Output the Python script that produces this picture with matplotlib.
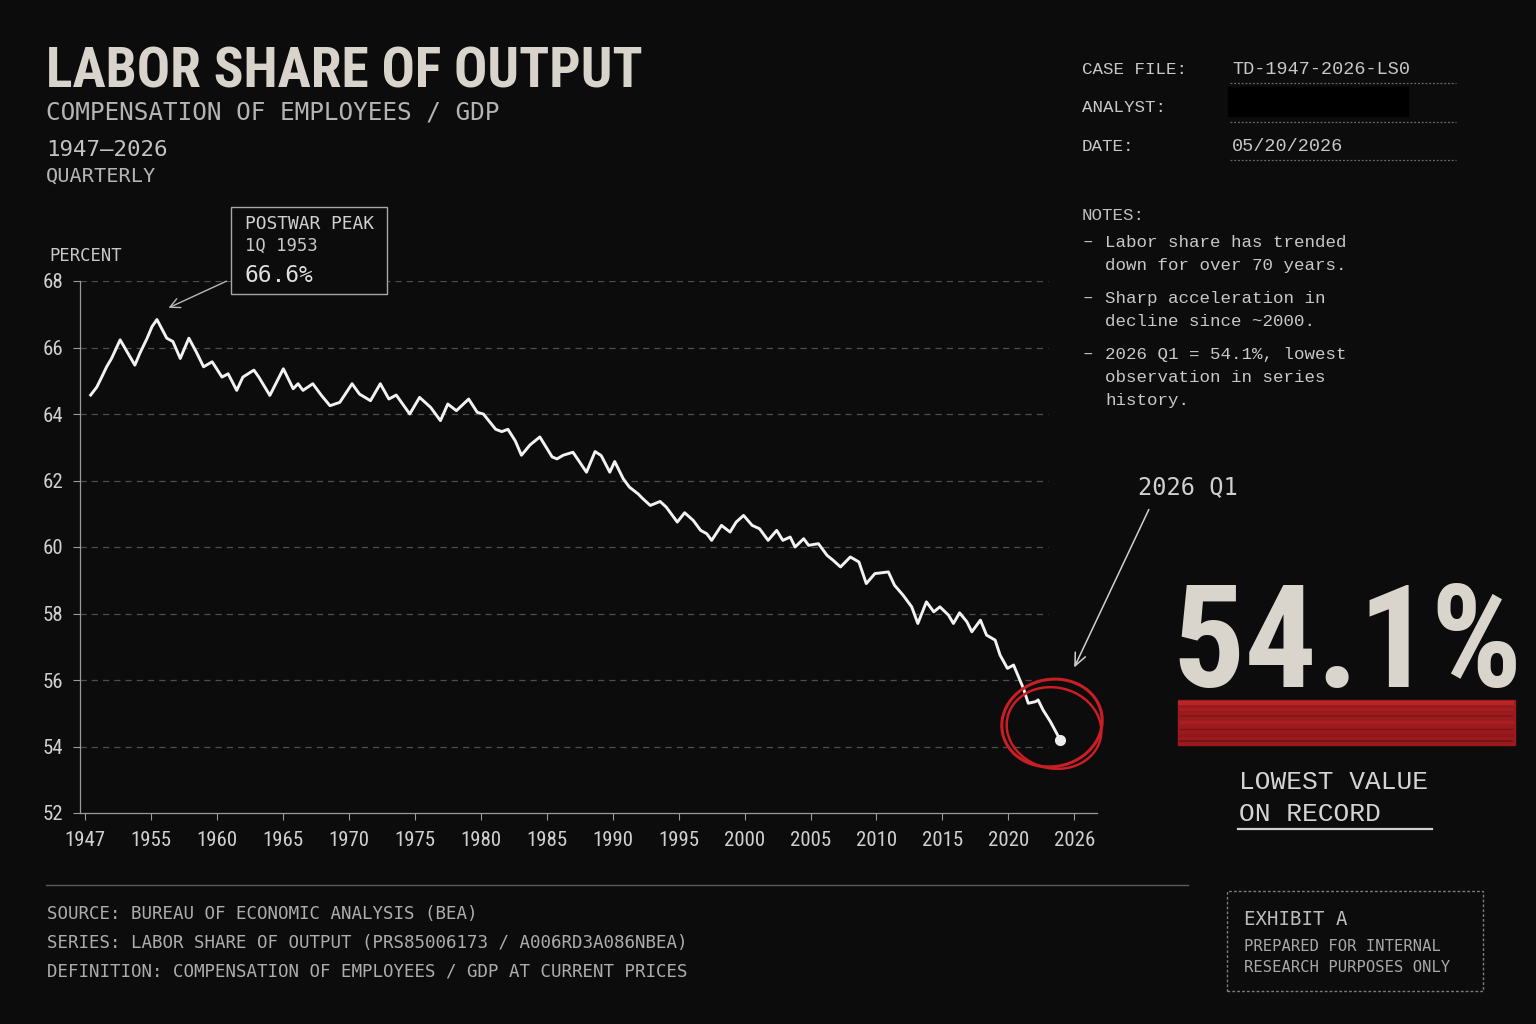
import numpy as np
import matplotlib
matplotlib.use('Agg')
import matplotlib.pyplot as plt
from matplotlib import font_manager as fm
from matplotlib.patches import Rectangle, Ellipse
from matplotlib.lines import Line2D

# labor share of output (year, percent)
years = [1947.0, 1947.5, 1947.9, 1948.3, 1948.7, 1949.4, 1950.6, 1951.0, 1951.6, 1952.0,
         1952.4, 1953.2, 1953.7, 1954.3, 1955.0, 1955.6, 1956.2, 1956.9, 1957.7, 1958.2,
         1958.9, 1959.4, 1960.3, 1960.7, 1961.6, 1962.7, 1963.5, 1963.9, 1964.3, 1965.1,
         1965.8, 1966.5, 1967.3, 1968.3, 1968.9, 1969.8, 1970.6, 1971.3, 1971.9, 1973.0,
         1973.8, 1974.7, 1975.5, 1976.1, 1976.8, 1977.8, 1978.5, 1979.0, 1980.0, 1980.5,
         1981.0, 1981.6, 1982.1, 1982.8, 1983.6, 1984.6, 1985.0, 1985.5, 1986.3, 1987.4,
         1988.1, 1988.6, 1989.3, 1989.7, 1990.4, 1990.9, 1991.6, 1992.0, 1992.6, 1993.4,
         1993.9, 1994.8, 1995.4, 1996.1, 1996.7, 1997.2, 1997.6, 1998.4, 1999.1, 1999.6,
         2000.2, 2000.9, 2001.5, 2002.2, 2002.9, 2003.4, 2004.0, 2004.4, 2005.1, 2005.5,
         2006.3, 2007.0, 2007.5, 2008.1, 2008.9, 2009.6, 2010.2, 2010.9, 2012.0, 2012.5,
         2013.2, 2013.9, 2014.4, 2015.1, 2015.7, 2016.2, 2016.9, 2017.3, 2017.8, 2018.4,
         2018.8, 2019.5, 2020.0, 2020.7, 2021.1, 2021.7, 2022.2, 2022.6, 2023.0, 2023.4,
         2024.0, 2024.2, 2024.6, 2025.2, 2026.0]
share = [64.57, 64.81, 65.11, 65.42, 65.67, 66.23, 65.47, 65.82, 66.28, 66.63,
         66.84, 66.28, 66.18, 65.67, 66.28, 65.87, 65.42, 65.57, 65.11, 65.21,
         64.71, 65.11, 65.32, 65.11, 64.56, 65.36, 64.76, 64.91, 64.71, 64.91,
         64.56, 64.25, 64.35, 64.91, 64.60, 64.40, 64.91, 64.45, 64.57, 64.00,
         64.50, 64.20, 63.80, 64.30, 64.10, 64.45, 64.05, 64.00, 63.54, 63.47,
         63.54, 63.19, 62.76, 63.07, 63.31, 62.71, 62.65, 62.76, 62.85, 62.25,
         62.87, 62.75, 62.25, 62.57, 62.05, 61.80, 61.60, 61.45, 61.25, 61.37,
         61.20, 60.75, 61.03, 60.80, 60.50, 60.40, 60.20, 60.65, 60.45, 60.75,
         60.95, 60.65, 60.55, 60.20, 60.50, 60.20, 60.30, 60.00, 60.25, 60.05,
         60.10, 59.75, 59.60, 59.40, 59.70, 59.55, 58.90, 59.20, 59.25, 58.85,
         58.55, 58.20, 57.70, 58.35, 58.05, 58.20, 57.95, 57.70, 58.02, 57.75,
         57.45, 57.80, 57.35, 57.20, 56.75, 56.35, 56.45, 56.10, 55.75, 55.30,
         55.35, 55.40, 55.10, 54.75, 54.20]

tick_labels = ['1947', '1955', '1960', '1965', '1970', '1975', '1980', '1985',
               '1990', '1995', '2000', '2005', '2010', '2015', '2020', '2026']
y_ticks = [52, 54, 56, 58, 60, 62, 64, 66, 68]

peak_lines = ['POSTWAR PEAK', '1Q 1953', '66.6%']
case_rows = [('CASE FILE:', 'TD-1947-2026-LS0'), ('ANALYST:', ''), ('DATE:', '05/20/2026')]
notes = [['Labor share has trended', 'down for over 70 years.'],
         ['Sharp acceleration in', 'decline since ~2000.'],
         ['2026 Q1 = 54.1%, lowest', 'observation in series', 'history.']]
footer = ['SOURCE: BUREAU OF ECONOMIC ANALYSIS (BEA)',
          'SERIES: LABOR SHARE OF OUTPUT (PRS85006173 / A006RD3A086NBEA)',
          'DEFINITION: COMPENSATION OF EMPLOYEES / GDP AT CURRENT PRICES']

W, H = 1536, 1024
BG = '#0c0c0c'

names = {f.name for f in fm.fontManager.ttflist}
def pick(*cands):
    return next((c for c in cands if c in names), 'DejaVu Sans')

COND = pick('Liberation Sans Narrow', 'Roboto Condensed', 'Open Sans Condensed', 'DejaVu Sans')
MONO = pick('Liberation Mono', 'DejaVu Sans Mono')
SMONO = 'DejaVu Sans Mono'

def fx(px):
    return px / W

def fy(py):
    return 1 - py / H

fig = plt.figure(figsize=(W / 100, H / 100), dpi=100, facecolor=BG)

def txt(x, y, s, size, color='#c8c8c8', family=SMONO, **kw):
    fig.text(fx(x), fy(y), s, fontsize=size, color=color, family=family, va='baseline', **kw)

# header
txt(46, 88, 'LABOR SHARE OF OUTPUT', 40, '#d8d4cc', COND, fontweight='bold', fontstretch='condensed')
txt(46, 120, 'COMPENSATION OF EMPLOYEES / GDP', 17.6, '#b4b4b4')
txt(46, 156, '1947\u20132026', 16.2, '#c4c4c4')
txt(46, 182, 'QUARTERLY', 14.6, '#b4b4b4')

# case file block
for i, (lab, val) in enumerate(case_rows):
    base = 74 + i * 38.5
    txt(1082, base, lab, 12.6, '#c8c8c8', MONO)
    if val:
        txt(1232, base, val, 13.3, '#c8c8c8', MONO)
    fig.add_artist(Line2D([fx(1230), fx(1456)], [fy(base + 9), fy(base + 9)], color='#6a6a6a',
                          lw=0.9, ls=(0, (1.5, 1.5))))
fig.add_artist(Rectangle((fx(1228), fy(116)), 180 / W, 29 / H, color='#000000', transform=fig.transFigure))

txt(1082, 220, 'NOTES:', 12.6, '#c0c0c0', MONO)
base = 247
for group in notes:
    txt(1082, base, '\u2013', 12.6, '#c8c8c8', MONO)
    for line in group:
        txt(1105, base, line, 12.6, '#c8c8c8', MONO)
        base += 23
    base += 10

# chart
ax = fig.add_axes([fx(80), fy(813), (1097 - 80) / W, (813 - 281) / H])
ax.set_facecolor('none')
x0, x1 = 1946.13, 2029.0
ax.set_xlim(x0, x1)
ax.set_ylim(52, 68)
ax.hlines(y_ticks[1:], x0, 2025.0, colors='#4e4e4e', linestyles=(0, (5, 4)), lw=0.9, zorder=1)
ax.plot(years, share, color='#f2f2f2', lw=2.1, solid_joinstyle='round', zorder=3)
ax.plot(years[-1], share[-1], 'o', color='#eeeeee', ms=7, zorder=4)

for side in ['top', 'right']:
    ax.spines[side].set_visible(False)
for side in ['left', 'bottom']:
    ax.spines[side].set_color('#9a9a9a')
    ax.spines[side].set_linewidth(0.9)
ax.set_yticks(y_ticks)
ax.set_xticks(np.linspace(1946.55, 2027.15, len(tick_labels)))
ax.set_xticklabels(tick_labels)
ax.tick_params(axis='both', colors='#9a9a9a', labelcolor='#d0d0d0', length=5, width=0.8, labelsize=15)
ax.tick_params(axis='x', pad=8)
ax.tick_params(axis='y', pad=7)
for lbl in ax.get_xticklabels() + ax.get_yticklabels():
    lbl.set_fontfamily(COND)

txt(49, 261, 'PERCENT', 12.4, '#c8c8c8')

# peak annotation box
fig.add_artist(Rectangle((fx(231), fy(294)), 156 / W, 87 / H, facecolor=BG, edgecolor='#a8a8a8',
                         lw=1.0, transform=fig.transFigure, zorder=5))
txt(245, 229, peak_lines[0], 12.9, '#d0d0d0', zorder=6)
txt(245, 251, peak_lines[1], 12.4, '#c8c8c8', zorder=6)
txt(245, 282, peak_lines[2], 16.5, '#e0e0e0', zorder=6)
ax.annotate('', xy=(166, H - 309), xycoords='figure pixels', xytext=(229, H - 280),
            textcoords='figure pixels',
            arrowprops=dict(arrowstyle='->,head_length=0.7,head_width=0.35', color='#b8b8b8', lw=1.0))

# latest observation callout
txt(1138, 494, '2026 Q1', 17, '#d0d0d0')
ax.annotate('', xy=(1073, H - 670), xycoords='figure pixels', xytext=(1150, H - 507),
            textcoords='figure pixels',
            arrowprops=dict(arrowstyle='->,head_length=0.9,head_width=0.4', color='#d0d0d0', lw=1.1))
for cx, cy, ew, eh, ang, lw in [(1052, 723, 100, 88, -6, 2.2), (1054, 728, 94, 82, 8, 1.8)]:
    fig.add_artist(Ellipse((fx(cx), fy(cy)), ew / W, eh / H, angle=ang, fill=False,
                           edgecolor='#c81e24', lw=lw, transform=fig.transFigure, zorder=6))

# big number
txt(1172, 687, '54.1%', 103, '#d9d5cd', COND, fontweight='bold', fontstretch='condensed')
fig.add_artist(Rectangle((fx(1178), fy(745)), 337 / W, 45 / H, color='#9a1a1d',
                         transform=fig.transFigure))
for yy, c, lw, a in [(703, '#c42a2c', 3.0, 0.75), (709, '#b02225', 2.0, 0.6), (716, '#7a1316', 1.2, 0.6),
                     (722, '#b52326', 2.5, 0.55), (729, '#6d1114', 1.0, 0.7), (735, '#8a1518', 1.8, 0.6),
                     (741, '#5e0f12', 1.2, 0.7)]:
    fig.add_artist(Line2D([fx(1180), fx(1512)], [fy(yy), fy(yy)], color=c, lw=lw, alpha=a))
txt(1239, 789, 'LOWEST VALUE', 18.9, '#d4d4d4', MONO)
txt(1239, 821, 'ON RECORD', 18.9, '#d4d4d4', MONO)
fig.add_artist(Line2D([fx(1238), fx(1432)], [fy(829), fy(829)], color='#d0d0d0', lw=1.6))

# footer
fig.add_artist(Line2D([fx(46), fx(1188)], [fy(885), fy(885)], color='#5c5c5c', lw=1.0))
for i, line in enumerate(footer):
    txt(47, 919 + i * 29, line, 12.6, '#adadad')

fig.add_artist(Rectangle((fx(1227), fy(991)), 256 / W, 100 / H, fill=False, edgecolor='#7c7c7c',
                         lw=1.0, ls=(0, (2, 1.5)), transform=fig.transFigure))
txt(1244, 925, 'EXHIBIT A', 13.7, '#bdbdbd')
txt(1244, 951, 'PREPARED FOR INTERNAL', 11.2, '#a8a8a8')
txt(1244, 972, 'RESEARCH PURPOSES ONLY', 11.2, '#a8a8a8')

fig.savefig('out.png', dpi=100, facecolor=BG)
